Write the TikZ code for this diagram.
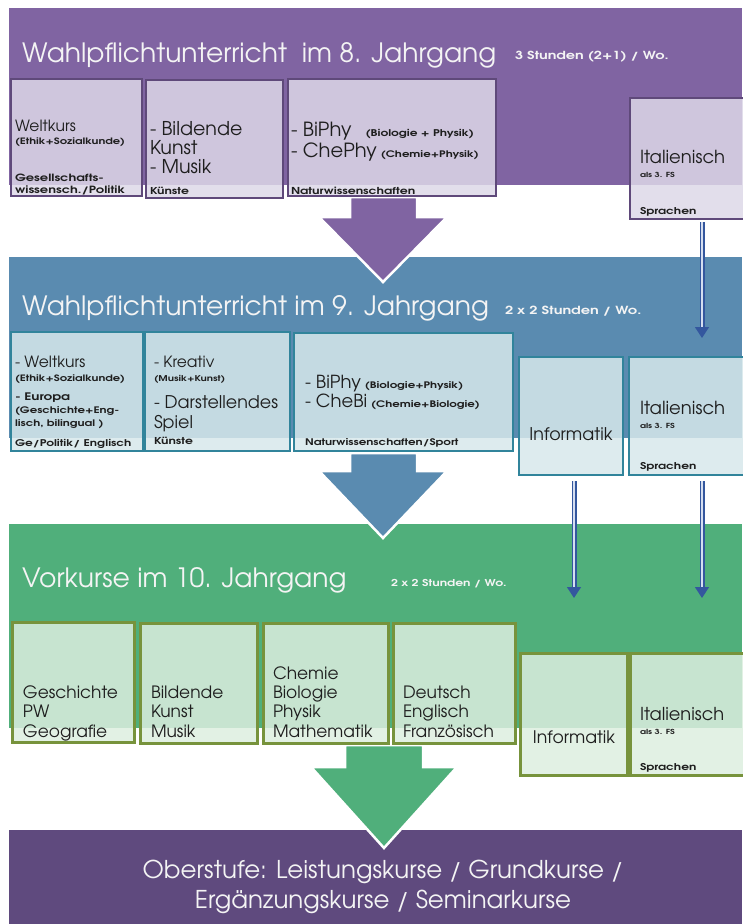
\documentclass[tikz,border=0pt]{standalone}
\usepackage{fontspec}
\setmainfont{texgyreadventor}[Extension=.otf, UprightFont=*-regular, BoldFont=*-bold]
\newfontfamily\lblfont{texgyreadventor}[Extension=.otf, UprightFont=*-bold, FakeStretch=1.3]
\usetikzlibrary{arrows.meta}
\definecolor{bandA}{HTML}{8064A2}
\definecolor{bandB}{HTML}{5A8BB0}
\definecolor{bandC}{HTML}{50AF7B}
\definecolor{bandD}{HTML}{5F4A7E}
\definecolor{boxA}{HTML}{DDD8E8}
\definecolor{lineA}{HTML}{5F497A}
\definecolor{boxB}{HTML}{D7E8EB}
\definecolor{lineB}{HTML}{31849B}
\definecolor{boxC}{HTML}{DDEEDF}
\definecolor{lineC}{HTML}{77933C}
\definecolor{arrowblue}{HTML}{34579E}
\definecolor{arrowin}{HTML}{D5DEF0}
\definecolor{titletext}{HTML}{F4F4F4}
\definecolor{boxtext}{HTML}{1E1E1E}
\newcommand\fsz[1]{\fontsize{#1}{#1}\selectfont}
\newcommand\lbl[1]{\lblfont\fontsize{#1}{#1}\selectfont}
\begin{document}
\begin{tikzpicture}[x=1pt,y=-1pt,
  band/.style={inner sep=0, outer sep=0, anchor=north west, draw=none},
  boxbase/.style={inner sep=0, outer sep=0, anchor=north west, fill opacity=0.85},
  boxa/.style={boxbase, draw=lineA, line width=2.5pt, fill=boxA},
  boxb/.style={boxbase, draw=lineB, line width=2.5pt, fill=boxB},
  boxc/.style={boxbase, draw=lineC, line width=3pt, fill=boxC},
  tx/.style={inner sep=0, outer sep=0, anchor=base west, text=boxtext},
  title/.style={inner sep=0, outer sep=0, anchor=base west, text=titletext, font=\fsz{26.6}},
  subtitle/.style={inner sep=0, outer sep=0, anchor=base west, text=titletext},
  bigarrow/.style={draw=white, line width=2.5pt, line join=miter},
  smallarr/.style={draw=arrowblue, double=arrowin, double distance=2.4pt, line width=1.3pt,
    -{Triangle[width=14pt,length=11pt]}}
]
\useasboundingbox (0,0) rectangle (742,924);
% bands
\node[band, fill=bandA, minimum width=733pt, minimum height=177pt] (band1) at (9,8) {};
\node[band, fill=bandB, minimum width=733pt, minimum height=181pt] (band2) at (9,257) {};
\node[band, fill=bandC, minimum width=733pt, minimum height=204pt] (band3) at (9,524) {};
\node[band, fill=bandD, minimum width=733pt, minimum height=94pt] (band4) at (9,830) {};
% titles
\node[title] (title1) at (22,62) {Wahlpflichtunterricht\ \ im 8. Jahrgang};
\node[subtitle, font=\lbl{11.1}] (sub1) at (515,59) {3 Stunden (2+1) / Wo.};
\node[title] (title2) at (22,315) {Wahlpflichtunterricht im 9. Jahrgang};
\node[subtitle, font=\lbl{11.2}] (sub2) at (505,314) {2 x 2 Stunden / Wo.};
\node[title] (title3) at (22,587) {Vorkurse im 10. Jahrgang};
\node[subtitle, font=\lbl{9.5}] (sub3) at (391,586) {2 x 2 Stunden / Wo.};
\node[inner sep=0, text=titletext, align=center, font=\fontsize{24.5}{30}\selectfont] (ober) at (383,887)
  {Oberstufe: Leistungskurse / Grundkurse /\\Ergänzungskurse / Seminarkurse};
% big arrows
\draw[bigarrow, fill=bandA] (350,197) -- (417,197) -- (417,217) -- (447,217) -- (383,282) -- (319,217) -- (350,217) -- cycle;
\draw[bigarrow, fill=bandB] (350,453) -- (417,453) -- (417,471) -- (447,471) -- (383,538) -- (319,471) -- (350,471) -- cycle;
\draw[bigarrow, fill=bandC] (345,745) -- (423,745) -- (423,767) -- (457,767) -- (384,848) -- (311,767) -- (345,767) -- cycle;
% row 1 boxes
\node[boxa, minimum width=131pt, minimum height=117pt] (a1) at (11,79) {};
\node[boxa, minimum width=137pt, minimum height=118pt] (b1) at (146,80) {};
\node[boxa, minimum width=208pt, minimum height=117pt] (c1) at (288,79) {};
\node[boxa, minimum width=115pt, minimum height=121pt] (d1) at (630,98) {};
% row 1 text
\node[tx, font=\fsz{15.5}] (a1t1) at (15,131) {Weltkurs};
\node[tx, font=\lbl{8.8}] (a1t2) at (15,144) {(Ethik+Sozialkunde)};
\node[tx, font=\lbl{10}] (a1t3) at (15,181) {Gesellschafts-};
\node[tx, font=\lbl{10}] (a1t4) at (15,193) {wissensch./Politik};
\node[tx, font=\fsz{19}] (b1t1) at (150,135) {- Bildende};
\node[tx, font=\fsz{19}] (b1t2) at (150,154) {Kunst};
\node[tx, font=\fsz{19}] (b1t3) at (150,173) {- Musik};
\node[tx, font=\lbl{9.5}] (b1t4) at (150,194) {Künste};
\node[tx] (c1t1) at (291,136) {\fsz{19.5}- BiPhy\hspace{14pt}\lbl{9.3}(Biologie + Physik)};
\node[tx] (c1t2) at (291,157) {\fsz{19.5}- ChePhy\hspace{4pt}\lbl{9}(Chemie+Physik)};
\node[tx, font=\lbl{9.6}] (c1t3) at (291,194) {Naturwissenschaften};
\node[tx, font=\fsz{18}] (d1t1) at (640,163) {Italienisch};
\node[tx, font=\lbl{7}] (d1t2) at (640,177) {als 3. FS};
\node[tx, font=\lbl{9.4}] (d1t3) at (640,214) {Sprachen};
% row 2 boxes
\node[boxb, minimum width=132pt, minimum height=119pt] (a2) at (11,332) {};
\node[boxb, minimum width=145pt, minimum height=119pt] (b2) at (145,332) {};
\node[boxb, minimum width=219pt, minimum height=118pt] (c2) at (294,333) {};
\node[boxb, minimum width=104pt, minimum height=118pt] (d2) at (519,357) {};
\node[boxb, minimum width=116pt, minimum height=118pt] (e2) at (629,357) {};
% row 2 text
\node[tx, font=\fsz{15.5}] (a2t1) at (15,367) {- Weltkurs};
\node[tx, font=\lbl{8.8}] (a2t2) at (15,381) {(Ethik+Sozialkunde)};
\node[tx, font=\lbl{10.4}] (a2t3) at (15,400) {- Europa};
\node[tx, font=\lbl{9}] (a2t4) at (15,413) {(Geschichte+Eng-};
\node[tx, font=\lbl{9}] (a2t5) at (15,426) {lisch, bilingual )};
\node[tx, font=\lbl{9.3}] (a2t6) at (15,446) {Ge/Politik/ Englisch};
\node[tx, font=\fsz{15.5}] (b2t1) at (154,367) {- Kreativ};
\node[tx, font=\lbl{8}] (b2t2) at (154,381) {(Musik+Kunst)};
\node[tx, font=\fsz{17.5}] (b2t3) at (154,408) {- Darstellendes};
\node[tx, font=\fsz{17.5}] (b2t4) at (154,428) {Spiel};
\node[tx, font=\lbl{9.5}] (b2t5) at (154,444) {Künste};
\node[tx] (c2t1) at (305,388) {\fsz{18}- BiPhy\hspace{4pt}\lbl{9}(Biologie+Physik)};
\node[tx] (c2t2) at (305,407) {\fsz{18}- CheBi\hspace{4pt}\lbl{9}(Chemie+Biologie)};
\node[tx, font=\lbl{9.1}] (c2t3) at (305,445) {Naturwissenschaften/Sport};
\node[tx, anchor=base, font=\fsz{17.5}] (d2t1) at (571,440) {Informatik};
\node[tx, font=\fsz{18}] (e2t1) at (640,414) {Italienisch};
\node[tx, font=\lbl{7}] (e2t2) at (640,428) {als 3. FS};
\node[tx, font=\lbl{9.4}] (e2t3) at (640,469) {Sprachen};
% row 3 boxes
\node[boxc, minimum width=122pt, minimum height=120pt] (a3) at (12,622) {};
\node[boxc, minimum width=117pt, minimum height=120pt] (b3) at (140,623) {};
\node[boxc, minimum width=125pt, minimum height=120pt] (c3) at (263,623) {};
\node[boxc, minimum width=122pt, minimum height=120pt] (d3) at (393,623) {};
\node[boxc, minimum width=107pt, minimum height=122pt] (e3) at (520,653) {};
\node[boxc, minimum width=115pt, minimum height=122pt] (f3) at (630,653) {};
% row 3 text
\node[tx, font=\fsz{17}] (a3t1) at (23,698) {Geschichte};
\node[tx, font=\fsz{17}] (a3t2) at (23,717) {PW};
\node[tx, font=\fsz{17}] (a3t3) at (23,737) {Geografie};
\node[tx, font=\fsz{17}] (b3t1) at (151,698) {Bildende};
\node[tx, font=\fsz{17}] (b3t2) at (151,717) {Kunst};
\node[tx, font=\fsz{17}] (b3t3) at (151,737) {Musik};
\node[tx, font=\fsz{17}] (c3t1) at (273,679) {Chemie};
\node[tx, font=\fsz{17}] (c3t2) at (273,698) {Biologie};
\node[tx, font=\fsz{17}] (c3t3) at (273,717) {Physik};
\node[tx, font=\fsz{17}] (c3t4) at (273,737) {Mathematik};
\node[tx, font=\fsz{17}] (d3t1) at (403,698) {Deutsch};
\node[tx, font=\fsz{17}] (d3t2) at (403,717) {Englisch};
\node[tx, font=\fsz{17}] (d3t3) at (403,737) {Französisch};
\node[tx, anchor=base, font=\fsz{17.3}] (e3t1) at (574,743) {Informatik};
\node[tx, font=\fsz{17.8}] (f3t1) at (640,720) {Italienisch};
\node[tx, font=\lbl{7}] (f3t2) at (640,734) {als 3. FS};
\node[tx, font=\lbl{9.4}] (f3t3) at (640,770) {Sprachen};
% small arrows
\coordinate (s1a) at (702,222);
\coordinate (s1b) at (702,338);
\coordinate (s2a) at (574,481);
\coordinate (s2b) at (574,598);
\coordinate (s3a) at (702,481);
\coordinate (s3b) at (702,598);
\draw[smallarr] (s1a) -- (s1b);
\draw[smallarr] (s2a) -- (s2b);
\draw[smallarr] (s3a) -- (s3b);
\end{tikzpicture}
\end{document}
